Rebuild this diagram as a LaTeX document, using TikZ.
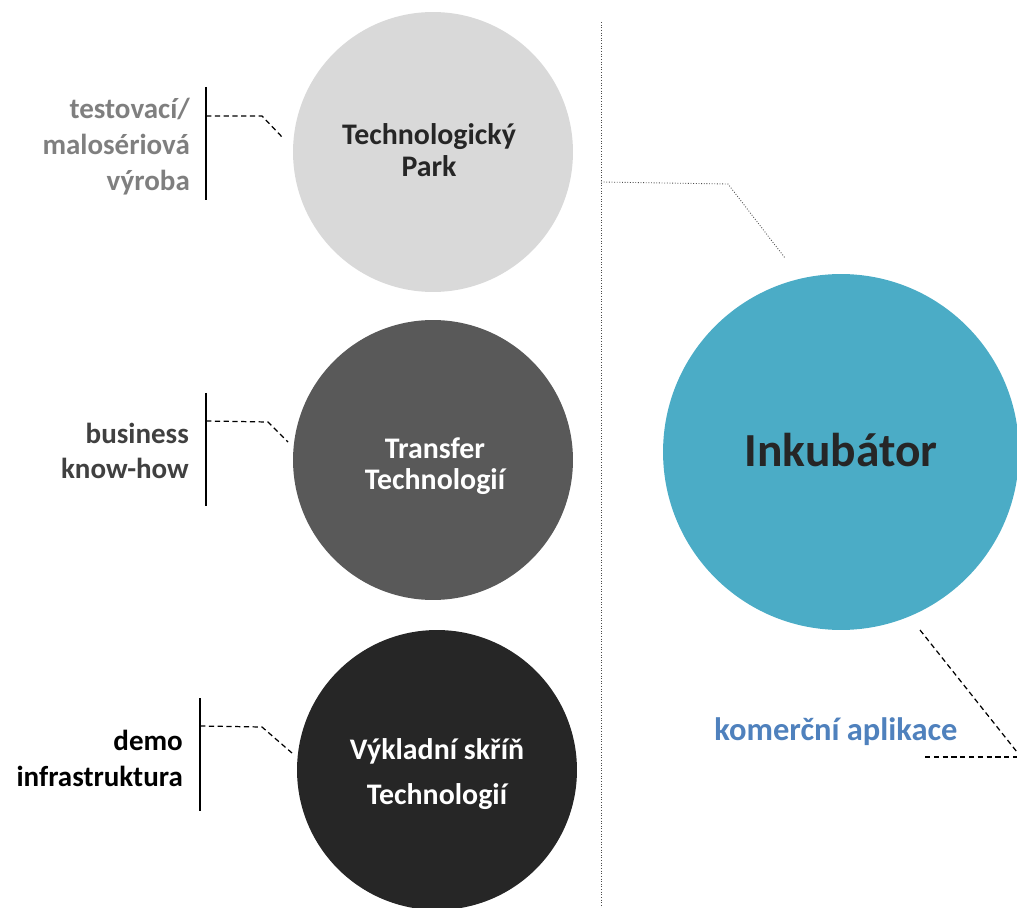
\documentclass[tikz,border=0pt]{standalone}
\usepackage{fontspec}
\setmainfont{Carlito}
\usetikzlibrary{positioning, calc}
\definecolor{parkgray}{HTML}{D9D9D9}
\definecolor{transfergray}{HTML}{595959}
\definecolor{showgray}{HTML}{262626}
\definecolor{inkteal}{HTML}{4BACC6}
\definecolor{labelgray}{HTML}{7F7F7F}
\definecolor{bizgray}{HTML}{404040}
\definecolor{appblue}{HTML}{4F81BD}

\begin{document}
\begin{tikzpicture}[x=0.02cm, y=-0.02cm,
    every node/.style={font=\bfseries\fontsize{17}{18}\selectfont, align=center},
    bubble/.style={circle, minimum size=5.6cm, inner sep=0pt},
    sidelabel/.style={anchor=east, align=right, font=\bfseries\fontsize{16.5}{20.5}\selectfont},
    leader/.style={densely dashed, line width=0.7pt},
    bracket/.style={line width=1pt},
    divider/.style={densely dotted, line width=0.5pt, black!70}]
    \useasboundingbox (0,0) rectangle (1017,908);

    \node[bubble, fill=parkgray] (park) at (433,152) {};
    \node[bubble, fill=transfergray] (transfer) at (433,460) {};
    \node[bubble, fill=showgray] (showcase) at (437,770) {};
    \node[bubble, minimum size=7.12cm, fill=inkteal] (inkub) at (841,452) {};

    \node[text=showgray] (parktxt) at ($(park)+(-4,-2)$) {Technologický\\Park};
    \node[text=white] (transfertxt) at ($(transfer)+(2,6)$) {Transfer\\Technologií};
    \node[text=white, font=\bfseries\fontsize{17}{26}\selectfont] (showtxt) at ($(showcase)+(0,4)$) {Výkladní skříň\\Technologií};
    \node[text=showgray, font=\bfseries\fontsize{27}{32}\selectfont] (inkubtxt) at ($(inkub)+(0,-2)$) {Inkubátor};

    \node[sidelabel, text=labelgray] (vyroba) at (196,147) {testovací/\\malosériová\\výroba};
    \node[sidelabel, text=bizgray, font=\bfseries\fontsize{16.5}{19.5}\selectfont] (business) at (195,451) {business\\know-how};
    \node[sidelabel, text=black] (demo) at (189,758) {demo\\infrastruktura};
    \node[text=appblue, font=\bfseries\fontsize{18.5}{20}\selectfont] (komerce) at (836,732) {komerční aplikace};

    \coordinate (d1) at (601,22);   \coordinate (d2) at (601,908);
    \coordinate (d3) at (601,182);  \coordinate (d4) at (728,184);  \coordinate (d5) at (785,258);
    \draw[divider] (d1) -- (d2);
    \draw[divider] (d3) -- (d4) -- (d5);

    \coordinate (v1t) at (206,87);  \coordinate (v1b) at (206,200);
    \coordinate (v2t) at (206,393); \coordinate (v2b) at (206,506);
    \coordinate (v3t) at (200,698); \coordinate (v3b) at (200,811);
    \draw[bracket] (v1t) -- (v1b);
    \draw[bracket] (v2t) -- (v2b);
    \draw[bracket] (v3t) -- (v3b);

    \coordinate (p1) at (206,116); \coordinate (p2) at (262,116); \coordinate (p3) at (283,138);
    \coordinate (t1) at (206,421); \coordinate (t2) at (268,422); \coordinate (t3) at (288,442);
    \coordinate (s1) at (200,726); \coordinate (s2) at (262,727); \coordinate (s3) at (292,753);
    \draw[leader] (p1) -- (p2) -- (p3);
    \draw[leader] (t1) -- (t2) -- (t3);
    \draw[leader] (s1) -- (s2) -- (s3);

    \coordinate (k1) at (920,630); \coordinate (k2) at (1017,752);
    \coordinate (k3) at (925,757); \coordinate (k4) at (1017,757);
    \draw[leader] (k1) -- (k2);
    \draw[leader] (k3) -- (k4);
\end{tikzpicture}
\end{document}
